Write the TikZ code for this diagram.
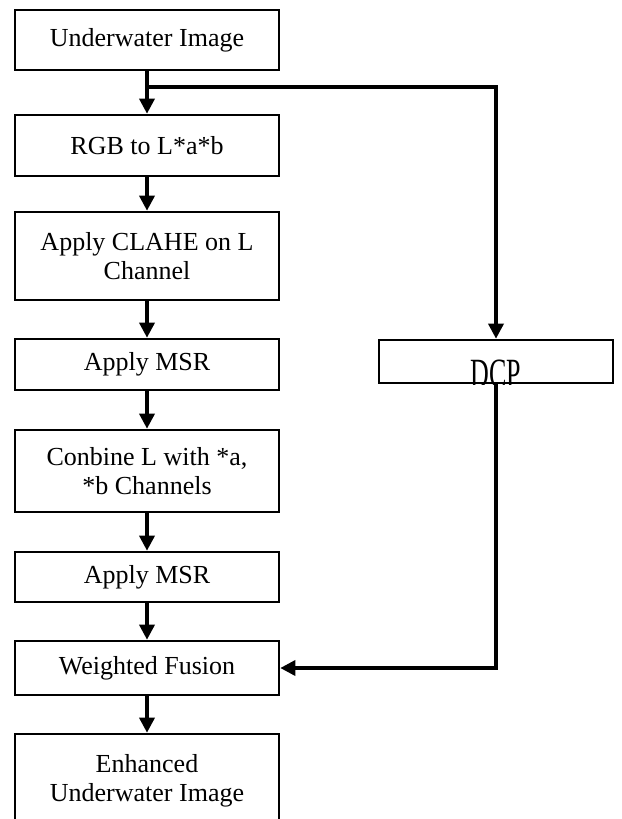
\documentclass[tikz,border=0pt]{standalone}
\usepackage{fontspec}
\setmainfont{Liberation Serif}
\usepackage{graphicx}
\usetikzlibrary{arrows.meta,positioning}

\tikzset{
  box/.style={draw, line width=1.3pt, minimum width=132pt, align=center,
    inner sep=0pt, font=\fontsize{13}{14.5}\selectfont},
  flow/.style={line width=1.7pt, -{Triangle[length=7.5pt,width=7.5pt]}},
}

\begin{document}
\begin{tikzpicture}[x=0.5pt, y=-0.5pt]
      \useasboundingbox (0,0) rectangle (621,819);
      \clip (0,0) rectangle (621,819);
      \def\cx{147}   % main column
      \def\dx{496}   % dcp column
      %
      \node[box, minimum height=30pt] (input) at (\cx, 40) {Underwater Image};
      \node[box, minimum height=30.5pt] (rgb) at (\cx, 145.5) {RGB to L*a*b};
      \node[box, minimum height=44pt] (clahe) at (\cx, 256) {Apply CLAHE on L\\Channel};
      \node[box, minimum height=25.5pt] (msra) at (\cx, 364.5) {Apply MSR};
      \node[box, minimum height=41pt] (comb) at (\cx, 471) {Conbine L with *a,\\*b Channels};
      \node[box, minimum height=25pt] (msrb) at (\cx, 577) {Apply MSR};
      \node[box, minimum height=27pt] (fusion) at (\cx, 668) {Weighted Fusion};
      \node[box, minimum height=47pt] (output) at (\cx, 781) {Enhanced\\Underwater Image};
      %%
      \node[box, minimum width=117pt, minimum height=21.5pt] (dcp) at (\dx, 361.5) {};
      \begin{scope}
        \clip (dcp.south west) rectangle (dcp.north east);
        \node[font=\fontsize{13}{14.5}\selectfont, anchor=base, inner sep=0pt]
          (dcptext) at (\dx, 387) {\scalebox{1}[1.6]{DCP}};
      \end{scope}
      %
      \draw[flow] (input) -- (rgb);
      \draw[flow] (rgb) -- (clahe);
      \draw[flow] (clahe) -- (msra);
      \draw[flow] (msra) -- (comb);
      \draw[flow] (comb) -- (msrb);
      \draw[flow] (msrb) -- (fusion);
      \draw[flow] (fusion) -- (output);
      %
      \coordinate (split) at (\cx, 87);   % branch to dcp
      \draw[flow] (split) -| (dcp);
      \draw[flow] (dcp) |- (fusion);
      %
    \end{tikzpicture}
\end{document}
